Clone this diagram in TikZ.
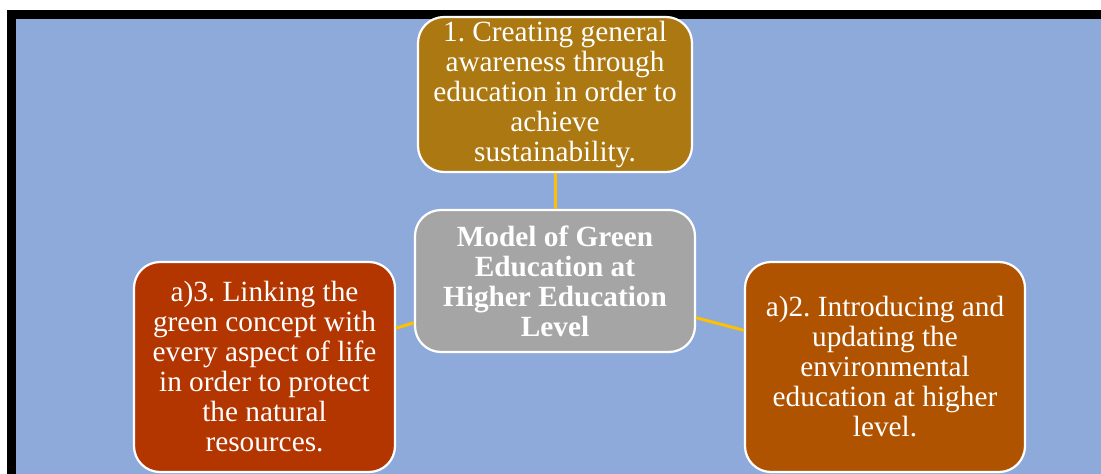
\documentclass[tikz,border=0pt]{standalone}
\usepackage{fontspec}
\setmainfont{Liberation Serif}
\frenchspacing
\definecolor{bgblue}{HTML}{8EAADB}
\definecolor{topfill}{HTML}{AB7811}
\definecolor{leftfill}{HTML}{B33500}
\definecolor{rightfill}{HTML}{AF5300}
\definecolor{midfill}{HTML}{A5A5A5}
\definecolor{linkgold}{HTML}{FFC000}
\tikzset{
  card/.style={draw=white, line width=2.2pt, rounded corners=26pt, inner sep=0pt,
    text=white, align=center, font=\fontsize{29.3}{30}\selectfont},
  link/.style={draw=linkgold, line width=3pt}
}
\begin{document}
\begin{tikzpicture}[x=1pt,y=-1pt]
\useasboundingbox (0,0) rectangle (1101,474);
\fill[white] (0,0) rectangle (1101,474);
\fill[black] (7,10) rectangle (1101,474);
\fill[bgblue] (16,19) rectangle (1101,474);
\node[card, fill=topfill, minimum width=274pt, minimum height=155pt] (top) at (555,94.5)
  {1. Creating general\\awareness through\\education in order to\\achieve\\sustainability.};
\node[card, fill=midfill, minimum width=280pt, minimum height=142pt, font=\fontsize{29.3}{30}\selectfont\bfseries] (mid) at (555,281)
  {Model of Green\\Education at\\Higher Education\\Level};
\node[card, fill=leftfill, minimum width=261pt, minimum height=210pt] (left) at (264.5,367)
  {a)3. Linking the\\green concept with\\every aspect of life\\in order to protect\\the natural\\resources.};
\node[card, fill=rightfill, minimum width=280pt, minimum height=210pt] (right) at (885,367)
  {a)2. Introducing and\\updating the\\environmental\\education at higher\\level.};
\draw[link] (top) -- (mid);
\draw[link] (mid) -- (left);
\draw[link] (mid) -- (right);
\end{tikzpicture}
\end{document}
